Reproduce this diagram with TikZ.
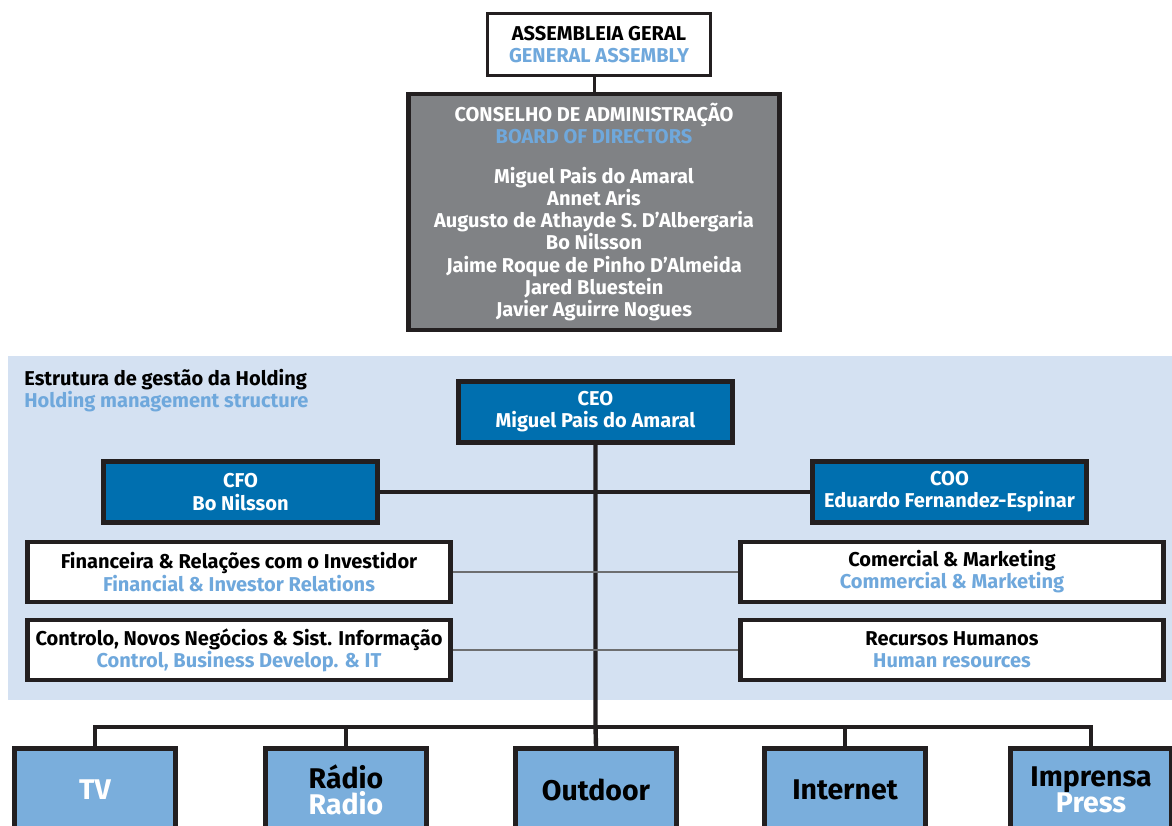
\documentclass[tikz,border=0pt]{standalone}
\usepackage{fontspec}
\setmainfont{Fira Sans}
\definecolor{bgblue}{HTML}{D4E1F2}
\definecolor{lblue}{HTML}{6FA8DC}
\definecolor{dblue}{HTML}{006FAF}
\definecolor{mblue}{HTML}{7AAEDC}
\definecolor{bdgray}{HTML}{808285}
\definecolor{ink}{HTML}{231F20}
\definecolor{thin}{HTML}{6D6E70}
\begin{document}
\begin{tikzpicture}[x=0.02cm, y=-0.02cm,
        box/.style={draw=ink, line width=2.8pt, align=center, inner sep=0pt,
            font=\bfseries\fontsize{11.4}{12.6}\selectfont},
        topbox/.style={box, fill=white, line width=1.7pt, minimum width=4.46cm, minimum height=1.24cm},
        boardbox/.style={box, fill=bdgray, text=white, minimum width=7.42cm, minimum height=4.72cm},
        headbox/.style={box, fill=dblue, text=white, minimum width=5.48cm, minimum height=1.22cm},
        deptbox/.style={box, fill=white, minimum width=8.46cm, minimum height=1.2cm},
        unitbox/.style={box, fill=mblue, minimum width=3.22cm, minimum height=1.66cm,
            font=\bfseries\fontsize{16.2}{15}\selectfont},
        link/.style={draw=ink, line width=2.5pt},
        sublink/.style={draw=thin, line width=0.7pt}]
        \useasboundingbox (0, 0) rectangle (1172, 825);
        \clip (0, 0) rectangle (1172, 825);

        \fill[bgblue] (8, 356) rectangle (1172, 700);

        \node[topbox] (AG) at (599, 44.5) {ASSEMBLEIA GERAL\\\textcolor{lblue}{GENERAL ASSEMBLY}};
        \node[boardbox] (CA) at (594, 212) {CONSELHO DE ADMINISTRAÇÃO\\\textcolor{lblue}{BOARD OF DIRECTORS}\\[10pt]
            Miguel Pais do Amaral\\Annet Aris\\Augusto de Athayde S. D’Albergaria\\Bo Nilsson\\
            Jaime Roque de Pinho D’Almeida\\Jared Bluestein\\Javier Aguirre Nogues};

        \node[anchor=north west, align=left, inner sep=0pt, font=\bfseries\fontsize{11.4}{12.6}\selectfont]
            (HMS) at (24, 369) {Estrutura de gestão da Holding\\\textcolor{lblue}{Holding management structure}};

        \node[headbox] (CEO) at (595.5, 412) {CEO\\Miguel Pais do Amaral};
        \node[headbox] (CFO) at (240.5, 492) {CFO\\Bo Nilsson};
        \node[headbox] (COO) at (949.5, 492) {COO\\Eduardo Fernandez-Espinar};

        \node[deptbox] (FIN) at (239, 572) {Financeira \& Relações com o Investidor\\\textcolor{lblue}{Financial \& Investor Relations}};
        \node[deptbox] (CTR) at (239, 650) {Controlo, Novos Negócios \& Sist. Informação\\\textcolor{lblue}{Control, Business Develop. \& IT}};
        \node[deptbox] (COM) at (952, 572) {Comercial \& Marketing\\\textcolor{lblue}{Commercial \& Marketing}};
        \node[deptbox] (RH) at (952, 650) {Recursos Humanos\\\textcolor{lblue}{Human resources}};

        \node[unitbox, text=white] (TV) at (95, 790) {TV};
        \node[unitbox] (RAD) at (346, 790) {Rádio\\\textcolor{white}{Radio}};
        \node[unitbox] (OUT) at (596, 790) {Outdoor};
        \node[unitbox] (NET) at (845, 790) {Internet};
        \node[unitbox] (IMP) at (1091, 790) {Imprensa\\\textcolor{white}{Press}};

        \coordinate (BUS) at (596, 727);

        \draw[link, line width=1.7pt] (CA.north) -- (CA.north |- AG.south);
        \draw[link] (CEO.south) -- (CEO.south |- BUS) -- (OUT.north);
        \draw[link] (CFO.east) -- (COO.west);
        \draw[sublink] (FIN.east) -- (COM.west);
        \draw[sublink] (CTR.east) -- (RH.west);
        \draw[link] (TV.north) -- (TV.north |- BUS) -- (IMP.north |- BUS) -- (IMP.north);
        \draw[link] (RAD.north) -- (RAD.north |- BUS);
        \draw[link] (NET.north) -- (NET.north |- BUS);
    \end{tikzpicture}
\end{document}
